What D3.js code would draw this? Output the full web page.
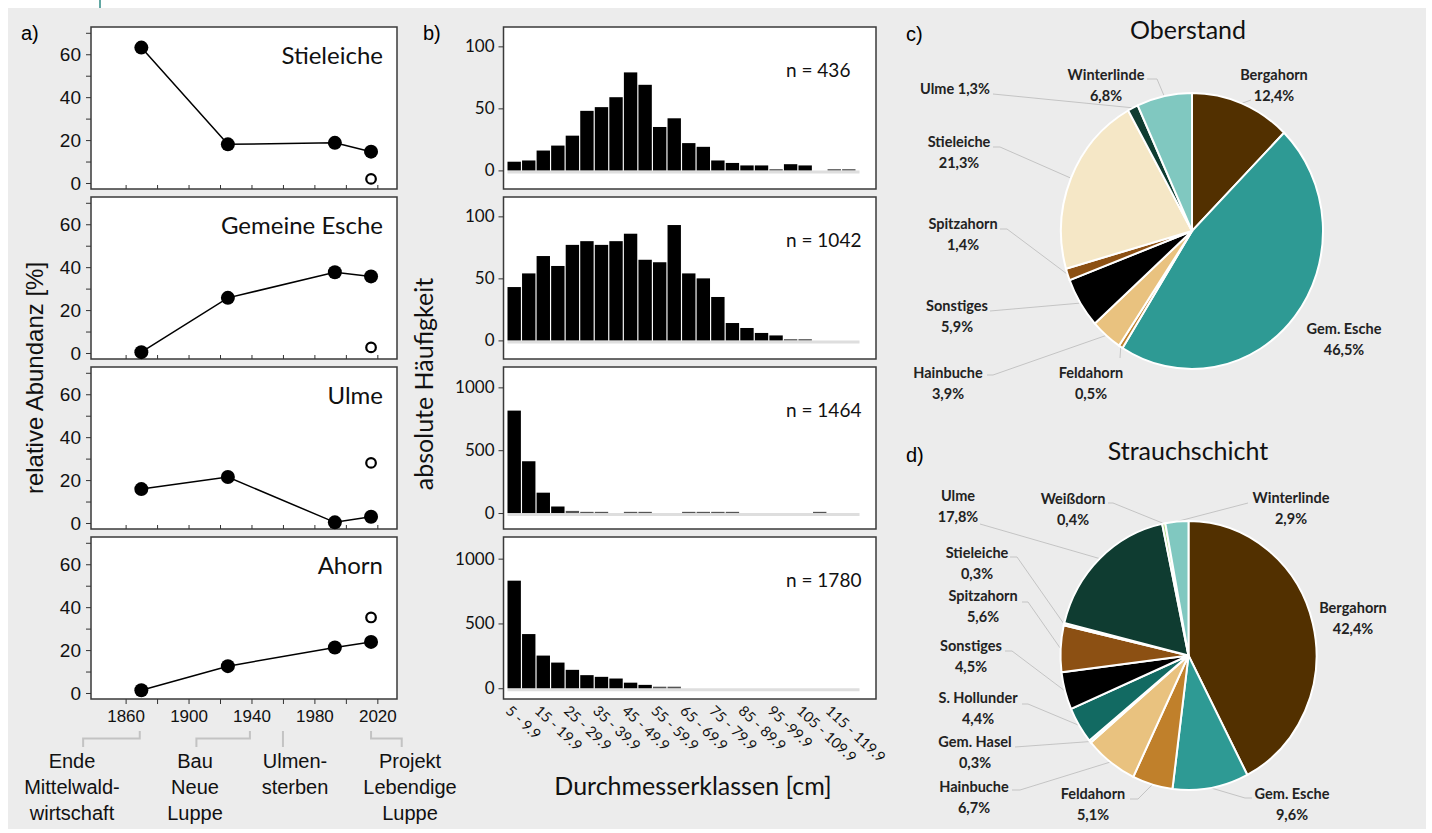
<!DOCTYPE html>
<html>
<head>
<meta charset="utf-8">
<script src="https://cdn.jsdelivr.net/npm/d3@7"></script>
<style>
  body { margin: 0; background: #fff; }
  .axis path { display: none; }
  .axis line { stroke: #333; }
</style>
</head>
<body>
<div id="chart"></div>
<script>
// ---- data: panel a (relative abundance over time) ----
var years = [1870, 1925, 1993, 2016];
var speciesA = ["Stieleiche", "Gemeine Esche", "Ulme", "Ahorn"];
var abundStieleiche = [63.1, 18.0, 18.7, 14.6];
var abundEsche = [0.4, 25.7, 37.6, 35.7];
var abundUlme = [15.8, 21.4, 0.3, 2.9];
var abundAhorn = [1.3, 12.5, 21.2, 23.8];
var openYear = 2016;
var openValues = [1.9, 2.6, 28.0, 35.2];
var yearTicks = [1860, 1880, 1900, 1920, 1940, 1960, 1980, 2000, 2020];
var abundTicks = [0, 10, 20, 30, 40, 50, 60, 70];
var events = [
  {lines: ["Ende", "Mittelwald-", "wirtschaft"], from: 1833, to: 1869},
  {lines: ["Bau", "Neue", "Luppe"], from: 1905, to: 1939},
  {lines: ["Ulmen-", "sterben"], from: 1960, to: 1960},
  {lines: ["Projekt", "Lebendige", "Luppe"], from: 2016, to: 2035.5}
];

// ---- data: panel b (diameter classes) ----
var diamClasses = ["5 - 9.9", "10 - 14.9", "15 - 19.9", "20 - 24.9", "25 - 29.9", "30 - 34.9",
  "35 - 39.9", "40 - 44.9", "45 - 49.9", "50 - 54.9", "55 - 59.9", "60 - 64.9", "65 - 69.9",
  "70 - 74.9", "75 - 79.9", "80 - 84.9", "85 - 89.9", "90 - 94.9", "95 -99.9", "100 - 104.9",
  "105 - 109.9", "110 - 114.9", "115 - 119.9", "120 - 124.9"];
var count436 = [7, 8, 16, 20, 28, 48, 51, 59, 79, 69, 35, 42, 22, 19, 8, 6, 4, 4, 1, 5, 4, 0, 1, 1];
var count1042 = [43, 54, 68, 60, 77, 80, 77, 80, 86, 65, 63, 93, 54, 50, 35, 14, 10, 6, 4, 1, 1, 0, 0, 0];
var count1464 = [815, 412, 162, 52, 17, 4, 3, 0, 2, 3, 0, 0, 2, 2, 2, 2, 0, 0, 0, 0, 0, 2, 0, 0];
var count1780 = [830, 418, 252, 198, 142, 101, 88, 75, 43, 26, 12, 12, 0, 0, 0, 0, 0, 0, 0, 0, 0, 0, 0, 0];
var histN = ["n = 436", "n = 1042", "n = 1464", "n = 1780"];
var histTicks = [[0, 50, 100], [0, 50, 100], [0, 500, 1000], [0, 500, 1000]];

// ---- data: panels c, d (species shares) ----
var oberSpecies = ["Bergahorn", "Gem. Esche", "Feldahorn", "Hainbuche", "Sonstiges", "Spitzahorn",
  "Stieleiche", "Ulme", "Winterlinde"];
var oberShares = [12.4, 46.5, 0.5, 3.9, 5.9, 1.4, 21.3, 1.3, 6.8];
var strauchSpecies = ["Bergahorn", "Gem. Esche", "Feldahorn", "Hainbuche", "Gem. Hasel", "S. Hollunder",
  "Sonstiges", "Spitzahorn", "Stieleiche", "Ulme", "Weißdorn", "Winterlinde"];
var strauchShares = [42.4, 9.6, 5.1, 6.7, 0.3, 4.4, 4.5, 5.6, 0.3, 17.8, 0.4, 2.9];

// ---- styles ----
var speciesColor = {
  "Bergahorn": "#523000", "Gem. Esche": "#2e9a94", "Feldahorn": "#c0802b",
  "Hainbuche": "#e9c27f", "Sonstiges": "#000000", "Spitzahorn": "#8c5013",
  "Stieleiche": "#f5e7c6", "Ulme": "#0f3c31", "Winterlinde": "#80c8c0",
  "S. Hollunder": "#126a62", "Gem. Hasel": "#d8ece8", "Weißdorn": "#b5dc8a"
};
var arial = "'Liberation Sans', Arial, sans-serif";
var calib = "Lato, 'Open Sans', sans-serif";

// label placement for the pies: text centre, first baseline, leader start, elbow
var oberLabels = {
  "Bergahorn":   {x: 1274, y: 80,  sx: 1251, sy: 100},
  "Gem. Esche":  {x: 1344, y: 334},
  "Feldahorn":   {x: 1091, y: 378, sx: 1120, sy: 358},
  "Hainbuche":   {x: 948,  y: 378, sx: 987,  sy: 375, ex: 993},
  "Sonstiges":   {x: 957,  y: 311, sx: 990,  sy: 311},
  "Spitzahorn":  {x: 963,  y: 229, sx: 1000, sy: 229, ex: 1007},
  "Stieleiche":  {x: 959,  y: 147, sx: 993,  sy: 147, ex: 1000},
  "Ulme":        {x: 955,  y: 94,  sx: 993,  sy: 94, single: true},
  "Winterlinde": {x: 1106, y: 80,  sx: 1147, sy: 79, ex: 1157}
};
var strauchLabels = {
  "Bergahorn":    {x: 1353, y: 613},
  "Gem. Esche":   {x: 1292, y: 799, sx: 1252, sy: 798, ex: 1245},
  "Feldahorn":    {x: 1093, y: 799, sx: 1130, sy: 799, ex: 1138},
  "Hainbuche":    {x: 974,  y: 792, sx: 1012, sy: 790, ex: 1020},
  "Gem. Hasel":   {x: 975,  y: 747, sx: 1015, sy: 747},
  "S. Hollunder": {x: 978,  y: 703, sx: 1022, sy: 704, ex: 1028},
  "Sonstiges":    {x: 971,  y: 651, sx: 1005, sy: 651, ex: 1012},
  "Spitzahorn":   {x: 983,  y: 601, sx: 1022, sy: 602, ex: 1028},
  "Stieleiche":   {x: 977,  y: 558, sx: 1010, sy: 557, ex: 1017},
  "Ulme":         {x: 958,  y: 501, sx: 980,  sy: 524},
  "Weißdorn":     {x: 1073, y: 504, sx: 1108, sy: 503, ex: 1113},
  "Winterlinde":  {x: 1291, y: 503, sx: 1248, sy: 503}
};

var W = 1432, H = 833;
var svg = d3.select("#chart").append("svg").attr("width", W).attr("height", H);

svg.append("rect").attr("x", 8).attr("y", 8).attr("width", 1418).attr("height", 821).attr("fill", "#ececec");
svg.append("line").attr("x1", 100).attr("x2", 100).attr("y1", 0).attr("y2", 8)
   .attr("stroke", "#2e8a84").attr("stroke-width", 1.5);

var tops = [27, 197, 367, 537], plotH = 162;

// ================= panel a =================
var abund = [abundStieleiche, abundEsche, abundUlme, abundAhorn];
var xA = d3.scaleLinear().domain([1838, 2032.5]).range([91, 397]);

svg.append("text").attr("x", 21).attr("y", 40).attr("font-family", arial)
   .attr("font-size", 20).text("a)");

abund.forEach(function(vals, i) {
  var t = tops[i];
  var yA = d3.scaleLinear().domain([-2.8, 72.7]).range([t + plotH, t]);
  var g = svg.append("g");
  g.append("rect").attr("x", 91).attr("y", t).attr("width", 306).attr("height", plotH)
   .attr("fill", "#fff").attr("stroke", "#3a3a3a").attr("stroke-width", 1.5);

  var ya = g.append("g").attr("class", "axis").attr("transform", "translate(91,0)")
    .call(d3.axisLeft(yA).tickValues(abundTicks).tickSize(5).tickPadding(5)
      .tickFormat(function(d) { return d % 20 === 0 ? d : ""; }));
  ya.selectAll("text").attr("font-family", arial).attr("font-size", 19).attr("fill", "#111");

  var last = i === abund.length - 1;
  var xa = g.append("g").attr("class", "axis").attr("transform", "translate(0," + (t + plotH) + ")")
    .call(d3.axisBottom(xA).tickValues(yearTicks).tickSize(last ? 5 : -4).tickPadding(6)
      .tickFormat(function(d) { return last && (d - 1860) % 40 === 0 ? d : ""; }));
  xa.selectAll("text").attr("font-family", arial).attr("font-size", 17).attr("fill", "#111");

  var pts = years.map(function(y, k) { return [y, vals[k]]; });
  g.append("path").datum(pts).attr("fill", "none").attr("stroke", "#000").attr("stroke-width", 1.5)
   .attr("d", d3.line().x(function(d) { return xA(d[0]); }).y(function(d) { return yA(d[1]); }));
  g.selectAll("circle.f").data(pts).enter().append("circle")
   .attr("cx", function(d) { return xA(d[0]); }).attr("cy", function(d) { return yA(d[1]); })
   .attr("r", 7).attr("fill", "#000");
  g.append("circle").attr("cx", xA(openYear)).attr("cy", yA(openValues[i])).attr("r", 4.8)
   .attr("fill", "#fff").attr("stroke", "#000").attr("stroke-width", 2.2);

  g.append("text").attr("x", 383).attr("y", t + 37).attr("text-anchor", "end")
   .attr("font-family", calib).attr("font-size", 24).attr("fill", "#111").text(speciesA[i]);
});

svg.append("text").attr("transform", "translate(43,378) rotate(-90)").attr("text-anchor", "middle")
   .attr("font-family", arial).attr("font-size", 24).attr("fill", "#111").text("relative Abundanz [%]");

// timeline brackets
var bracketY = 738.5;
events.forEach(function(ev, i) {
  var x1 = xA(ev.from), x2 = xA(ev.to);
  var p;
  if (ev.from === ev.to) p = [[x1, 731], [x1, 747]];
  else if (i < 2) p = [[x1, 747], [x1, bracketY], [x2, bracketY], [x2, 731]];
  else p = [[x1, 731], [x1, bracketY], [x2, bracketY], [x2, 747]];
  svg.append("path").attr("d", d3.line()(p)).attr("fill", "none")
     .attr("stroke", "#c3c3c3").attr("stroke-width", 2);
  var cx = [72, 195, 295, 410][i];
  ev.lines.forEach(function(s, k) {
    svg.append("text").attr("x", cx).attr("y", 768 + k * 26).attr("text-anchor", "middle")
       .attr("font-family", arial).attr("font-size", 20).attr("fill", "#111").text(s);
  });
});

// ================= panel b =================
var counts = [count436, count1042, count1464, count1780];
var yDomains = [[-15, 115.6], [-15, 115.6], [-127, 1162], [-83, 1167]];
var xB = d3.scaleBand().domain(diamClasses).range([507.5, 855.5]).paddingInner(0.08).paddingOuter(0);

svg.append("text").attr("x", 423).attr("y", 40).attr("font-family", arial)
   .attr("font-size", 20).text("b)");

counts.forEach(function(vals, i) {
  var t = tops[i];
  var yB = d3.scaleLinear().domain(yDomains[i]).range([t + plotH, t]);
  var g = svg.append("g");
  g.append("rect").attr("x", 503.5).attr("y", t).attr("width", 372.5).attr("height", plotH)
   .attr("fill", "#fff").attr("stroke", "#3a3a3a").attr("stroke-width", 1.5);

  var ya = g.append("g").attr("class", "axis").attr("transform", "translate(503.5,0)")
    .call(d3.axisLeft(yB).tickValues(histTicks[i]).tickSize(5).tickPadding(4).tickFormat(d3.format("d")));
  ya.selectAll("text").attr("font-family", calib).attr("font-size", 17).attr("fill", "#111");

  // light baseline under the bars
  g.append("line").attr("x1", xB.range()[0]).attr("x2", xB.range()[1] + 4)
   .attr("y1", yB(0) + 1.5).attr("y2", yB(0) + 1.5).attr("stroke", "#dedede").attr("stroke-width", 3);

  var bars = vals.map(function(v, k) { return {c: diamClasses[k], v: v}; })
                 .filter(function(d) { return d.v > 0; });
  var small = yDomains[i][1] / 60;   // tiny classes show up as grey dashes
  g.selectAll("rect.bar").data(bars).enter().append("rect").attr("class", "bar")
   .attr("x", function(d) { return xB(d.c); })
   .attr("width", xB.bandwidth())
   .attr("y", function(d) { return Math.min(yB(d.v), yB(0) - 1.2); })
   .attr("height", function(d) { return yB(0) - Math.min(yB(d.v), yB(0) - 1.2); })
   .attr("fill", function(d) { return d.v < small ? "#555" : "#000"; });

  g.append("text").attr("x", 786).attr("y", t + 50).attr("font-family", calib)
   .attr("font-size", 19).attr("fill", "#111").text(histN[i]);
});

diamClasses.forEach(function(c, k) {
  if (k % 2 !== 0) return;
  var x = xB(c) + xB.bandwidth() / 2 - 2;
  svg.append("text").attr("transform", "translate(" + x + ",704) rotate(43)")
     .attr("dy", "0.75em").attr("font-family", calib).attr("font-size", 14.5)
     .attr("fill", "#111").text(c);
});

svg.append("text").attr("x", 693).attr("y", 795).attr("text-anchor", "middle")
   .attr("font-family", calib).attr("font-size", 25).attr("fill", "#111").text("Durchmesserklassen [cm]");
svg.append("text").attr("transform", "translate(433,384) rotate(-90)").attr("text-anchor", "middle")
   .attr("font-family", calib).attr("font-size", 25).attr("fill", "#111").text("absolute Häufigkeit");

// ================= panels c, d =================
function drawPie(species, shares, cx, cy, rx, ry, labels, title, tag, titleY) {
  svg.append("text").attr("x", 906).attr("y", titleY + 2).attr("font-family", arial)
     .attr("font-size", 20).text(tag);
  svg.append("text").attr("x", 1188).attr("y", titleY).attr("text-anchor", "middle")
     .attr("font-family", calib).attr("font-size", 25).attr("fill", "#111").text(title);

  var data = species.map(function(s, k) { return {name: s, v: shares[k]}; });
  var arcs = d3.pie().sort(null).value(function(d) { return d.v; })(data);
  var arc = d3.arc().innerRadius(0).outerRadius(ry);

  // leader lines
  arcs.forEach(function(a) {
    var L = labels[a.data.name];
    if (L.sx === undefined) return;
    var ang = (a.startAngle + a.endAngle) / 2;
    var px = cx + Math.sin(ang) * rx, py = cy - Math.cos(ang) * ry;
    var p = [[L.sx, L.sy]];
    if (L.ex !== undefined) p.push([L.ex, L.sy]);
    p.push([px, py]);
    svg.append("path").attr("d", d3.line()(p)).attr("fill", "none")
       .attr("stroke", "#c4c4c4").attr("stroke-width", 1);
  });

  var g = svg.append("g").attr("transform", "translate(" + cx + "," + cy + ") scale(" + (rx / ry) + ",1)");
  g.selectAll("path").data(arcs).enter().append("path")
   .attr("d", arc).attr("fill", function(d) { return speciesColor[d.data.name]; })
   .attr("stroke", "#fff").attr("stroke-width", 2).attr("vector-effect", "non-scaling-stroke");

  arcs.forEach(function(a) {
    var L = labels[a.data.name];
    var pct = String(a.data.v.toFixed(1)).replace(".", ",") + "%";
    var t = svg.append("text").attr("font-family", calib).attr("font-weight", 700)
       .attr("font-size", 14.5).attr("fill", "#222").attr("text-anchor", "middle");
    if (L.single) {
      t.attr("x", L.x).attr("y", L.y).text(a.data.name + " " + pct);
    } else {
      t.append("tspan").attr("x", L.x).attr("y", L.y).text(a.data.name);
      t.append("tspan").attr("x", L.x).attr("y", L.y + 21).text(pct);
    }
  });
}

drawPie(oberSpecies, oberShares, 1192, 231, 131, 138, oberLabels, "Oberstand", "c)", 39);
drawPie(strauchSpecies, strauchShares, 1188.5, 655.5, 128, 134.5, strauchLabels, "Strauchschicht", "d)", 460);
</script>
</body>
</html>
